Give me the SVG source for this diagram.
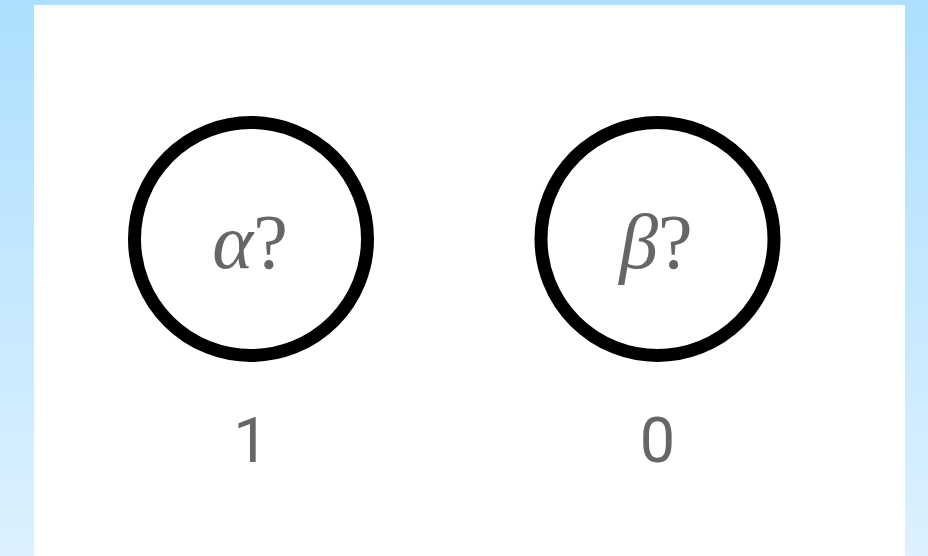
<svg xmlns="http://www.w3.org/2000/svg" width="928" height="556" viewBox="0 0 928 556">
  <defs>
    <linearGradient id="bg" x1="0" y1="0" x2="0" y2="1">
      <stop offset="0" stop-color="#acdfff"/>
      <stop offset="1" stop-color="#ddf1ff"/>
    </linearGradient>
    <style>
      .node { fill: none; stroke: #000; stroke-width: 13; }
      .lbl { font-size: 78px; fill: #666; text-anchor: middle; }
      .num { font-family: Roboto, sans-serif; font-size: 63px; fill: #666; text-anchor: middle; }
    </style>
  </defs>
  <rect x="0" y="0" width="928" height="556" fill="url(#bg)"/>
  <rect x="34" y="5" width="871" height="551" fill="#fff"/>
  <g id="node-alpha">
    <circle class="node" cx="251" cy="239" r="116.5"/>
    <text class="lbl" font-family="Liberation Serif, serif" x="250" y="268"><tspan font-style="italic">α</tspan>?</text>
  </g>
  <g id="node-beta">
    <circle class="node" cx="657.5" cy="239" r="116.5"/>
    <text class="lbl" font-family="Liberation Serif, serif" x="656" y="268"><tspan font-style="italic">β</tspan>?</text>
  </g>
  <g id="connectors"/>
  <text class="num" x="251" y="462">1</text>
  <text class="num" x="657.5" y="462">0</text>
</svg>
